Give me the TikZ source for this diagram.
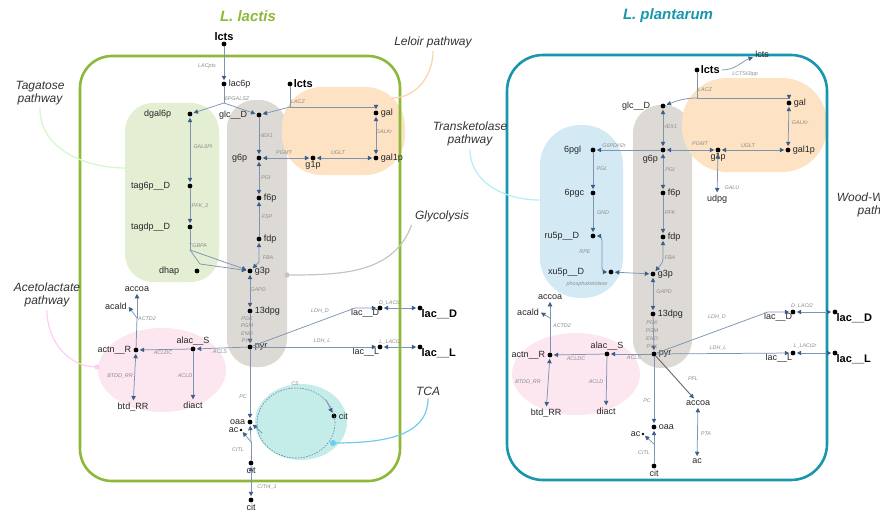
\documentclass[tikz,border=0pt]{standalone}
\usepackage{fontspec}
\setmainfont{Liberation Sans}
\usetikzlibrary{arrows.meta}
\definecolor{lacgreen}{HTML}{8DB83A}
\definecolor{plteal}{HTML}{1796AC}
\definecolor{tagbg}{HTML}{E3EED3}
\definecolor{glybg}{HTML}{DDDAD5}
\definecolor{lelbg}{HTML}{FDE2C3}
\definecolor{acebg}{HTML}{FCE6EF}
\definecolor{tcabg}{HTML}{C4EDEA}
\definecolor{pppbg}{HTML}{D3EAF5}
\definecolor{rxline}{HTML}{7F94B0}
\definecolor{tipblue}{HTML}{3C5E8C}
\begin{document}
\begin{tikzpicture}[x=1pt, y=-1pt, line join=round, line cap=round]
\tikzset{
  met/.style={circle, fill=black, inner sep=0pt, minimum size=4.8pt},
  sm/.style={circle, fill=black, inner sep=0pt, minimum size=2.6pt},
  mlab/.style={font=\fontsize{9}{9}\selectfont, text=black!85, inner sep=1pt},
  ext/.style={font=\bfseries\fontsize{11}{11}\selectfont, inner sep=1pt},
  rlab/.style={font=\itshape\fontsize{5.4}{5.4}\selectfont, text=black!45, inner sep=0pt},
  plab/.style={font=\itshape\fontsize{12}{13}\selectfont, align=center, text=black!80},
  ttl/.style={font=\bfseries\itshape\fontsize{15}{15}\selectfont},
  rx/.style={draw=rxline, line width=.75pt},
  fw/.style={rx, -{Triangle[length=4.4pt,width=4.4pt,color=tipblue]}, shorten >=1.2pt},
  rv/.style={rx, {Triangle[length=4.4pt,width=4.4pt,color=tipblue]}-{Triangle[length=4.4pt,width=4.4pt,color=tipblue]}, shorten >=1.2pt, shorten <=1.2pt},
  hint/.style={line width=1.2pt}
}
\useasboundingbox (0,0) rectangle (880,514);
\clip (0,0) rectangle (880,514);

% coloured pathway areas
\fill[tagbg, rounded corners=28pt] (125,103) rectangle (219,282);
\fill[glybg, rounded corners=28pt] (227,100) rectangle (287,367);
\fill[lelbg, rounded corners=40pt] (282,87) rectangle (405,175);
\fill[acebg] (162,370) ellipse [x radius=64pt, y radius=42pt];
\fill[tcabg] (301,422) ellipse [x radius=46pt, y radius=38pt];
\fill[pppbg, rounded corners=40pt] (540,125) rectangle (623,298);
\fill[glybg, rounded corners=28pt] (633,105) rectangle (692,368);
\fill[lelbg, rounded corners=45pt] (682,78) rectangle (827,172);
\fill[acebg] (576,374) ellipse [x radius=64pt, y radius=41pt];

% cells
\draw[lacgreen, line width=2.6pt, rounded corners=32pt] (80,56) rectangle (400,481);
\draw[plteal, line width=2.6pt, rounded corners=36pt] (507,55) rectangle (827,480);
\node[ttl, text=lacgreen] (tL) at (248,16) {L. lactis};
\node[ttl, text=plteal] (tP) at (668,16) {L. plantarum};

% pathway names
\node[plab] (tagat) at (40,93) {Tagatose\\pathway};
\node[plab] (lelo) at (433,42) {Leloir pathway};
\node[plab] (glyco) at (442,216) {Glycolysis};
\node[plab] (acelab) at (47,295) {Acetolactate\\pathway};
\node[plab] (tcalab) at (428,391) {TCA};
\node[plab] (tklab) at (470,134) {Transketolase\\pathway};
\node[plab] (wood) at (880,205) {Wood-Werkman\\pathway};
\coordinate (tagend) at (126,168);
\coordinate (leloend) at (392,98);
\coordinate (glyend) at (287,275);
\coordinate (aceend) at (97,367);
\coordinate (tcaend) at (333,443);
\coordinate (tkend) at (539,200);
\draw[hint, tagbg!80!green!60] (tagat.south) to[out=-90, in=180] (tagend);
\draw[hint, lelbg!85!orange] (lelo.south) to[out=-90, in=0] (leloend);
\draw[hint, glybg!90!black] (glyco.south west) to[out=-110, in=0] (glyend);
\draw[hint, acebg!80!magenta!70] (acelab.south) to[out=-90, in=180] (aceend);
\draw[hint, cyan!45!tcabg] (tcalab.south) to[out=-90, in=0] (tcaend);
\draw[hint, pppbg!85!cyan] (tklab.south) to[out=-90, in=180] (tkend);
\fill[glybg!90!black] (glyend) circle (2.6pt);
\fill[acebg!80!magenta!70] (aceend) circle (2.6pt);
\fill[cyan!45!tcabg] (tcaend) circle (3pt);

% metabolites
\foreach \n/\x/\y/\p/\d/\t in {
  Llac6p/224/84/right/1/lac6p, Ldgal/190/114/left/15/dgal6p,
  Lglc/259/115/left/8/glc\_\_D, Lgal/376/113/right/1/gal,
  Lgal1p/376/158/right/1/gal1p, Lg6p/259/158/left/8/g6p,
  Lg1p/313/158/below/0/g1p, Ltag6p/190/186/left/16/tag6p\_\_D,
  Ltagdp/190/227/left/16/tagdp\_\_D, Ldhap/197/271/left/14/dhap,
  Lf6p/259/198/right/1/f6p, Lfdp/259/239/right/1/fdp,
  Lg3p/250/271/right/1/g3p, Ldpg/250/311/right/1/13dpg,
  Lpyr/250/347/right/1/pyr, Llacd/380/308/below left/-3/lac\_\_D,
  Llacl/380/347/below left/-3/lac\_\_L, Lalac/193/349/above/0/alac\_\_S,
  Lactn/136/350/left/1/actn\_\_R, Loaa/250/422/left/1/oaa,
  Lcit/251/463/below/0/cit, Lcite/251/500/below/0/cit,
  Lcitc/334/416/right/1/cit,
  Pglc/663/106/left/9/glc\_\_D, Pgal/789/103/right/1/gal,
  Pgal1p/788/150/right/1/gal1p, Pg6p/663/150/below left/3/g6p,
  Pg1p/718/150/below/0/g1p, P6pgl/593/150/left/8/6pgl,
  P6pgc/593/193/left/5/6pgc, Pru5p/593/236/left/10/ru5p\_\_D,
  Pxu5p/611/272/left/23/xu5p\_\_D, Pf6p/663/193/right/1/f6p,
  Pfdp/663/237/right/1/fdp, Pg3p/653/274/right/1/g3p,
  Pdpg/653/314/right/1/13dpg, Ppyr/654/354/right/1/pyr,
  Placd/793/312/below left/-3/lac\_\_D, Placl/793/353/below left/-3/lac\_\_L,
  Palac/607/354/above/0/alac\_\_S, Pactn/550/355/left/1/actn\_\_R,
  Poaa/654/427/right/1/oaa, Pcit/654/466/below/0/cit}
  \node[met, label={[mlab, label distance=\d pt]\p:\t}] (\n) at (\x,\y) {};
\foreach \n/\x/\y/\p/\d/\t in {
  Llcte/224/44/above/0/lcts, Llcts/290/84/right/0/lcts,
  Llacde/420/308/below right/-2/lac\_\_D, Llacle/420/347/below right/-2/lac\_\_L,
  Plcts/697/70/right/0/lcts,
  Placde/835/312/below right/-2/lac\_\_D, Placle/835/353/below right/-2/lac\_\_L}
  \node[met, label={[ext, label distance=\d pt]\p:\t}] (\n) at (\x,\y) {};
\foreach \n/\x/\y/\t in {Lac/241/430/ac, Pac1/643/434/ac}
  \node[sm, label={[mlab]left:\t}] (\n) at (\x,\y) {};
\foreach \n/\x/\y/\t in {
  Lacc/137/289/accoa, Lacald/116/306/acald, Lbtd/133/407/btd\_RR,
  Ldiact/193/405/diact, Plcte/762/54/lcts, Pudpg/717/199/udpg,
  Pacc1/550/297/accoa, Pacald/528/312/acald, Pbtd/546/413/btd\_RR,
  Pdiact/606/411/diact, Pacc2/698/403/accoa, Pac2/697/461/ac}
  \node[mlab] (\n) at (\x,\y) {\t};

% reactions, L. lactis
\coordinate (Lb1) at (224,103);
\coordinate (Lb2) at (290,107);
\coordinate (Lb3) at (190,250);
\coordinate (Lb4) at (200,264);
\coordinate (Lb5) at (259,262);
\coordinate (Lb6) at (355,308);
\coordinate (Lb7) at (137,318);
\coordinate (Lb8) at (251,442);
\coordinate (Ltca) at (296,423);
\coordinate (Lcs1) at (326,400);
\coordinate (Lcs2) at (262,433);
\draw[fw] (Llcte) -- (Llac6p);
\draw[rx] (Llac6p) -- (Lb1);
\draw[fw] (Lb1) -- (Ldgal);
\draw[fw] (Lb1) -- (Lglc);
\draw[rx] (Llcts) -- (Lb2);
\draw[fw] (Lb2) -- (Lglc);
\draw[fw] (Lb2) -| (Lgal);
\draw[rv] (Lgal) -- (Lgal1p);
\draw[rv] (Lgal1p) -- (Lg1p);
\draw[rv] (Lg1p) -- (Lg6p);
\draw[fw] (Lglc) -- (Lg6p);
\draw[rv] (Ldgal) -- (Ltag6p);
\draw[fw] (Ltag6p) -- (Ltagdp);
\draw[rx] (Ltagdp) -- (Lb3);
\draw[fw] (Lb3) -- (Lg3p);
\draw[fw] (Lb3) -- (Lb4) -- (Lg3p);
\draw[rv] (Lg6p) -- (Lf6p);
\draw[fw] (Lfdp) -- (Lf6p);
\draw[rv] (Lfdp) -- (Lb5) -- (Lg3p);
\draw[rv] (Lg3p) -- (Ldpg);
\draw[fw] (Ldpg) -- (Lpyr);
\draw[fw] (Lpyr) -- (Lb6) -- (Llacd);
\draw[fw] (Lpyr) -- (Llacl);
\draw[rv] (Llacd) -- (Llacde);
\draw[rv] (Llacl) -- (Llacle);
\draw[fw] (Lpyr) -- (Lalac);
\draw[fw] (Lalac) -- (Lactn);
\draw[fw] (Lalac) -- (Ldiact);
\draw[rv] (Lactn) -- (Lbtd);
\draw[rx] (Lactn) -- (Lb7);
\draw[fw] (Lb7) -- (Lacc);
\draw[fw] (Lb7) -- (Lacald.east);
\draw[fw] (Lpyr) -- (Loaa);
\draw[rx] (Lcit) -- (Lb8);
\draw[fw] (Lb8) -- (Loaa);
\draw[fw] (Lb8) -- (Lac);
\draw[rv] (Lcite) -- (Lcit);
\draw[tipblue!80, line width=.6pt, dash pattern=on 1.2pt off 1.6pt] (Ltca) ellipse [x radius=39pt, y radius=35pt];
\draw[fw] (Lcs1) -- (Lcitc);
\draw[fw] (Lcs2) -- (Loaa);

% reactions, L. plantarum
\coordinate (Pb0) at (722,70);
\coordinate (Pb1) at (697,98);
\coordinate (Pb2) at (602,250);
\coordinate (Pb3) at (663,262);
\coordinate (Pb4) at (768,312);
\coordinate (Pb5) at (550,318);
\coordinate (Pb6) at (654,444);
\draw[fw] (Pb0) to[out=0, in=200] (Plcte);
\draw[rx] (Plcts) -- (Pb1);
\draw[fw] (Pb1) to[out=180, in=20] (Pglc);
\draw[fw] (Pb1) -| (Pgal);
\draw[rv] (Pgal) -- (Pgal1p);
\draw[rv] (Pgal1p) -- (Pg1p);
\draw[rv] (Pg1p) -- (Pg6p);
\draw[rv] (Pg1p) -- (Pudpg);
\draw[rv] (Pglc) -- (Pg6p);
\draw[fw] (Pg6p) -- (P6pgl);
\draw[fw] (P6pgl) -- (P6pgc);
\draw[fw] (P6pgc) -- (Pru5p);
\draw[rv, rounded corners=4pt] (Pru5p) -| (Pb2) |- (Pxu5p);
\draw[rv] (Pxu5p) -- (Pg3p);
\draw[rv] (Pg6p) -- (Pf6p);
\draw[fw] (Pf6p) -- (Pfdp);
\draw[rv, rounded corners=3pt] (Pfdp) -- (Pb3) -- (Pg3p);
\draw[rv] (Pg3p) -- (Pdpg);
\draw[fw] (Pdpg) -- (Ppyr);
\draw[fw] (Ppyr) -- (Pb4) -- (Placd);
\draw[fw] (Ppyr) -- (Placl);
\draw[rv] (Placd) -- (Placde);
\draw[rv] (Placl) -- (Placle);
\draw[fw] (Ppyr) -- (Palac);
\draw[fw] (Palac) -- (Pactn);
\draw[fw] (Palac) -- (Pdiact);
\draw[rv] (Pactn) -- (Pbtd);
\draw[rx] (Pactn) -- (Pb5);
\draw[fw] (Pb5) -- (Pacc1);
\draw[fw] (Pb5) -- (Pacald.east);
\draw[fw, draw=black!60, line width=.9pt] (Ppyr) -- (Pacc2);
\draw[rv] (Pacc2) -- (Pac2);
\draw[fw] (Ppyr) -- (Poaa);
\draw[rx] (Pcit) -- (Pb6);
\draw[fw] (Pb6) -- (Poaa);
\draw[fw] (Pb6) -- (Pac1);

% reaction names
\foreach \x/\y/\t [count=\i] in {
  207/66/LACpts, 237/99/6PGALSZ, 298/102/LACZ, 266/136/HEX1, 384/132/GALKr,
  284/153/PGMT, 338/153/UGLT, 203/147/GAL6PI, 266/178/PGI, 200/206/PFK\_2,
  267/217/FSP, 198/246/TGBPA, 268/258/FBA, 258/290/GAPD, 247/319/PGK,
  247/326/PGM, 247/334/ENO, 247/341/PYK, 320/311/LDH\_D, 390/303/D\_LACt2,
  322/341/LDH\_L, 390/342/L\_LACt2, 220/352/ACLS, 163/353/ACLDC,
  185/376/ACLD, 120/376/BTDD\_RR, 147/319/ACTD2, 243/397/PC, 238/450/CITL,
  267/487/CITt4\_1, 295/384/CS}
  \node[rlab] (rl\i) at (\x,\y) {\t};
\foreach \x/\y/\t [count=\i] in {
  745/74/LCTSt3ipp, 705/90/LACZ, 670/127/HEX1, 614/146/G6PDH2r, 602/169/PGL,
  603/213/GND, 585/252/RPE, 587/284/phosphoketolase, 700/144/PGMT,
  748/146/UGLT, 800/123/GALKr, 670/170/PGI, 670/213/PFK, 670/258/FBA,
  664/292/GAPD, 732/188/GALU, 652/323/PGK, 652/331/PGM, 652/339/ENO,
  652/347/PYK, 717/317/LDH\_D, 802/306/D\_LACt2, 718/348/LDH\_L,
  805/346/L\_LACt2r, 634/358/ACLS, 576/359/ACLDC, 596/382/ACLD,
  528/382/BTDD\_RR, 562/326/ACTD2, 693/379/PFL, 706/434/PTA, 647/401/PC,
  644/453/CITL}
  \node[rlab] (rr\i) at (\x,\y) {\t};
\end{tikzpicture}
\end{document}
